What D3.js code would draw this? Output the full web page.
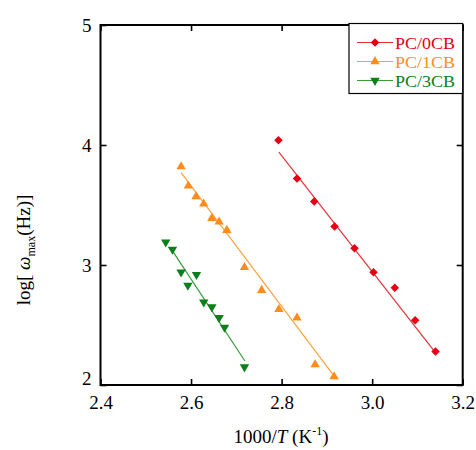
<!DOCTYPE html>
<html>
<head>
<meta charset="utf-8">
<script src="https://cdn.jsdelivr.net/npm/d3@7"></script>
<style>
  html, body { margin: 0; padding: 0; background: #fff; }
  svg { display: block; }
  text { font-family: "Liberation Serif", "Times New Roman", "DejaVu Serif", serif; }
</style>
</head>
<body>
<svg id="chart" width="476" height="450"></svg>
<script>
// Series names and colours
const seriesNames = ["PC/0CB", "PC/1CB", "PC/3CB"];
const seriesColors = ["#e60012", "#ff8c1a", "#0b7f1a"];
const lineColors = ["#e8323a", "#ffa040", "#3a9a3a"];

// Measured points: 1000/T and log(omega_max)
const x0CB = [2.793, 2.834, 2.872, 2.917, 2.961, 3.003, 3.050, 3.095, 3.140];
const y0CB = [4.04, 3.72, 3.53, 3.32, 3.14, 2.94, 2.81, 2.54, 2.28];

const x1CB = [2.578, 2.594, 2.611, 2.628, 2.646, 2.662, 2.679, 2.718, 2.756, 2.794, 2.834, 2.874, 2.916];
const y1CB = [3.82, 3.66, 3.57, 3.51, 3.39, 3.36, 3.29, 2.98, 2.79, 2.63, 2.56, 2.17, 2.07];

const x3CB = [2.544, 2.559, 2.578, 2.612, 2.593, 2.628, 2.646, 2.662, 2.674, 2.718];
const y3CB = [3.19, 3.13, 2.94, 2.92, 2.83, 2.69, 2.65, 2.56, 2.48, 2.15];

// Arrhenius fit lines (end points)
const fitX0CB = [2.794, 3.142], fitY0CB = [3.94, 2.26];
const fitX1CB = [2.578, 2.919], fitY1CB = [3.77, 2.06];
const fitX3CB = [2.555, 2.719], fitY3CB = [3.14, 2.20];

// Axis ticks
const xTicks = [2.4, 2.6, 2.8, 3.0, 3.2];
const yTicks = [2, 3, 4, 5];

const svg = d3.select("#chart");
const plotL = 100.5, plotR = 462.7, plotT = 25, plotB = 385;

const x = d3.scaleLinear().domain([2.4, 3.2]).range([plotL, plotR]);
const y = d3.scaleLinear().domain([2, 5]).range([plotB, plotT]);

const series = [
  { name: seriesNames[0], xs: x0CB, ys: y0CB, fx: fitX0CB, fy: fitY0CB, shape: "diamond" },
  { name: seriesNames[1], xs: x1CB, ys: y1CB, fx: fitX1CB, fy: fitY1CB, shape: "up" },
  { name: seriesNames[2], xs: x3CB, ys: y3CB, fx: fitX3CB, fy: fitY3CB, shape: "down" }
].map((s, i) => ({ ...s, color: seriesColors[i], lineColor: lineColors[i] }));

function symbolPath(shape) {
  if (shape === "diamond") return d3.symbol(d3.symbolDiamond2, 46)();
  return d3.symbol(d3.symbolTriangle, 38)();
}
function symbolTransform(shape, px, py) {
  return shape === "down" ? `translate(${px},${py}) rotate(180)` : `translate(${px},${py})`;
}

// Axes with inward ticks on all four sides
const tickLen = 6;
const fs = 19;

const gx = svg.append("g").attr("transform", `translate(0,${plotB})`)
  .call(d3.axisBottom(x).tickValues(xTicks).tickSizeInner(-tickLen).tickSizeOuter(0)
        .tickPadding(12).tickFormat(d3.format(".1f")));
const gxTop = svg.append("g").attr("transform", `translate(0,${plotT})`)
  .call(d3.axisTop(x).tickValues(xTicks).tickSizeInner(-tickLen).tickSizeOuter(0).tickFormat(""));
const gy = svg.append("g").attr("transform", `translate(${plotL},0)`)
  .call(d3.axisLeft(y).tickValues(yTicks).tickSizeInner(-tickLen).tickSizeOuter(0)
        .tickPadding(9).tickFormat(d3.format("d")));
const gyRight = svg.append("g").attr("transform", `translate(${plotR},0)`)
  .call(d3.axisRight(y).tickValues(yTicks).tickSizeInner(-tickLen).tickSizeOuter(0).tickFormat(""));

[gx, gxTop, gy, gyRight].forEach(g => {
  g.select(".domain").remove();
  g.selectAll(".tick line").attr("stroke", "#000").attr("stroke-width", 1.6);
  g.selectAll(".tick text").attr("fill", "#000").attr("font-size", fs)
    .attr("font-family", '"Liberation Serif", "Times New Roman", serif');
});
// the lowest y label sits a little higher, clear of the 2.4 label
gy.selectAll(".tick").filter(d => d === 2).select("text").attr("dy", "-0.02em");
gy.selectAll(".tick").filter(d => d !== 2).select("text").attr("dy", "0.32em");
gx.selectAll(".tick text").attr("dy", "0.62em");

// Plot frame
svg.append("rect")
  .attr("x", plotL).attr("y", plotT)
  .attr("width", plotR - plotL).attr("height", plotB - plotT)
  .attr("fill", "none").attr("stroke", "#000").attr("stroke-width", 2);

// Fit lines
const line = d3.line().x(d => x(d[0])).y(d => y(d[1]));
series.forEach(s => {
  svg.append("path")
    .datum(d3.zip(s.fx, s.fy))
    .attr("d", line)
    .attr("fill", "none")
    .attr("stroke", s.lineColor)
    .attr("stroke-width", 1.2);
});

// Data markers
series.forEach(s => {
  svg.append("g").selectAll("path")
    .data(d3.zip(s.xs, s.ys))
    .join("path")
    .attr("d", symbolPath(s.shape))
    .attr("transform", d => symbolTransform(s.shape, x(d[0]), y(d[1])))
    .attr("fill", s.color);
});

// Legend
const legend = svg.append("g");
legend.append("rect")
  .attr("x", 349).attr("y", 23.5).attr("width", 113.7).attr("height", 70)
  .attr("fill", "#fff").attr("stroke", "#000").attr("stroke-width", 1.2);
const legendRows = [42.5, 61.5, 80.5];
series.forEach((s, i) => {
  const ly = legendRows[i];
  legend.append("line")
    .attr("x1", 357).attr("x2", 393).attr("y1", ly).attr("y2", ly)
    .attr("stroke", s.lineColor).attr("stroke-width", 1.2);
  legend.append("path")
    .attr("d", symbolPath(s.shape))
    .attr("transform", symbolTransform(s.shape, 375, ly))
    .attr("fill", s.color);
  legend.append("text")
    .attr("x", 395).attr("y", ly + 6)
    .attr("font-size", 17)
    .attr("textLength", 60)
    .attr("lengthAdjust", "spacingAndGlyphs")
    .attr("fill", s.color)
    .text(s.name);
});

// Axis titles
const xTitle = svg.append("text")
  .attr("x", 281).attr("y", 443)
  .attr("text-anchor", "middle")
  .attr("font-size", fs)
  .attr("fill", "#000");
xTitle.append("tspan").text("1000/");
xTitle.append("tspan").attr("font-style", "italic").text("T");
xTitle.append("tspan").text(" (K");
xTitle.append("tspan").attr("font-size", 12).attr("dy", -8).text("-1");
xTitle.append("tspan").attr("dy", 8).text(")");

const yTitle = svg.append("text")
  .attr("transform", "translate(30,250) rotate(-90)")
  .attr("text-anchor", "middle")
  .attr("font-size", fs)
  .attr("fill", "#000");
yTitle.append("tspan").text("log[ ");
yTitle.append("tspan").attr("font-style", "italic").text("ω");
yTitle.append("tspan").attr("font-size", 12).attr("dy", 5).text("max");
yTitle.append("tspan").attr("dy", -5).text("(Hz)]");
</script>
</body>
</html>
